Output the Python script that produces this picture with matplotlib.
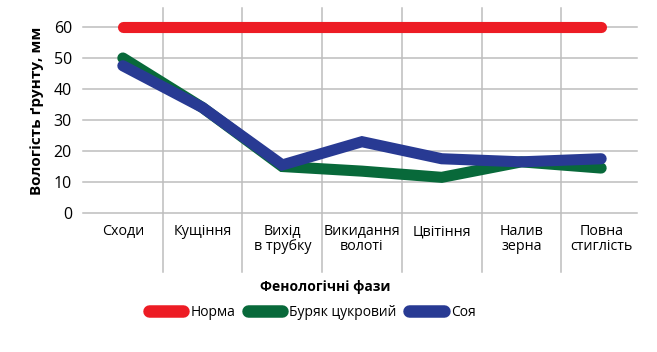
import matplotlib
matplotlib.use("Agg")
import matplotlib.pyplot as plt
import numpy as np

categories = ["Сходи", "Кущіння", "Вихід\nв трубку", "Викидання\nволоті", "Цвітіння", "Налив\nзерна", "Повна\nстиглість"]
norma = [60, 60, 60, 60, 60, 60, 60]
buryak = [50, 34, 15, 13.5, 11.5, 16.5, 14.5]
soya = [47.5, 34, 15.5, 23, 17.5, 16.5, 17.5]
series_names = ["Норма", "Буряк цукровий", "Соя"]
colors = ["#ED1C24", "#08693A", "#283A93"]
yticks = [0, 10, 20, 30, 40, 50, 60]

plt.rcParams['font.family'] = ['Open Sans', 'DejaVu Sans']

fig = plt.figure(figsize=(6.57, 3.52), dpi=100)
ax = fig.add_axes([83/657, 139/352, (641-83)/657, (213-8.4)/352])

x = np.arange(len(categories))
ax.set_xlim(-0.5, len(categories) - 0.5)
ax.set_ylim(0, 66)

# gridlines
for v in yticks:
    ax.plot([-0.5, len(categories) - 0.55], [v, v], color="#BDBDBD", lw=1.1, zorder=1, clip_on=False)
for b in np.arange(0.5, len(categories) - 0.5, 1):
    ax.plot([b, b], [-0.29, 1.0], transform=ax.get_xaxis_transform(), color="#BDBDBD",
            lw=1.1, zorder=1, clip_on=False)

lw = 8
for vals, name, c in zip([norma, buryak, soya], series_names, colors):
    ax.plot(x, vals, color=c, lw=lw, solid_capstyle="round", solid_joinstyle="miter", label=name, zorder=3)

for s in ax.spines.values():
    s.set_visible(False)
ax.set_yticks(yticks)
ax.set_yticklabels([str(v) for v in yticks], fontsize=11.5)
ax.tick_params(axis="y", length=0, pad=8)
ax.set_xticks(x)
ax.set_xticklabels(categories, fontsize=10.3, linespacing=1.0, va="top")
ax.tick_params(axis="x", length=0, pad=8)

ax.set_ylabel("Вологість ґрунту, мм", fontsize=11, fontweight="bold", labelpad=7)

fig.text(6.57*0.495, (352-287)/100, "Фенологічні фази", transform=fig.dpi_scale_trans,
         fontsize=10, fontweight="bold", ha="center", va="center")

leg = fig.legend(loc="center", bbox_to_anchor=(0.475, (352-312)/352), ncol=3, frameon=False,
                 fontsize=10, handlelength=2.5, handletextpad=0.5, columnspacing=0.9)
for h in leg.get_lines():
    h.set_linewidth(9)
    h.set_solid_capstyle("round")

fig.savefig("out.png", dpi=100)
